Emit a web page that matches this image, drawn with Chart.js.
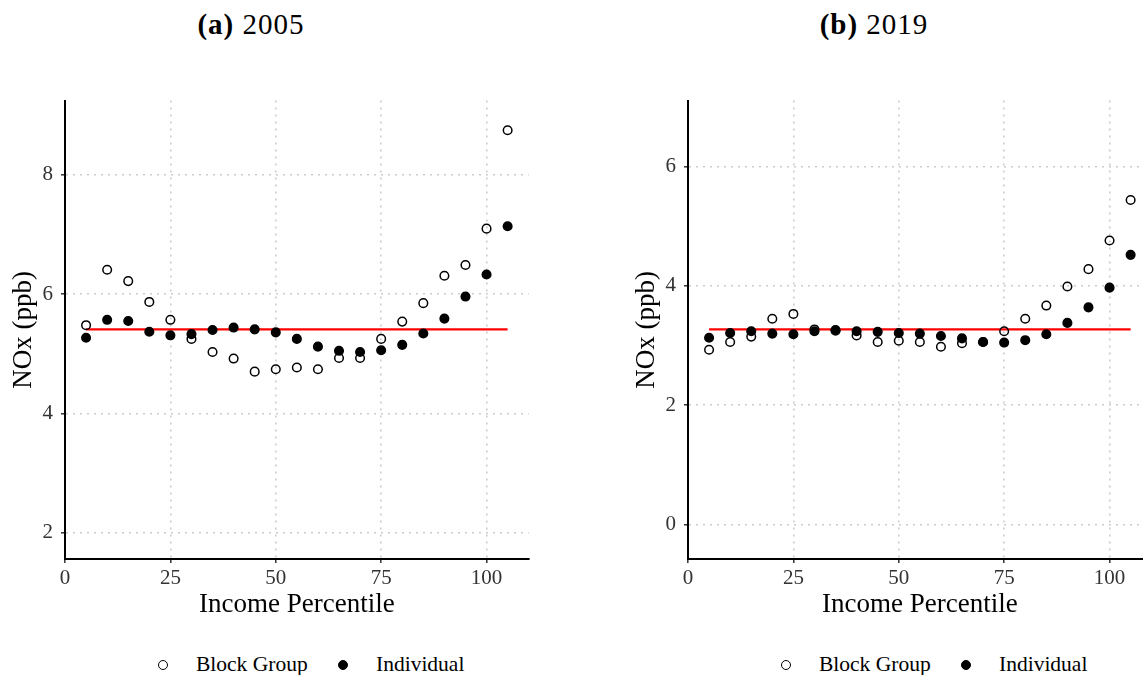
<!DOCTYPE html>
<html>
<head>
<meta charset="utf-8">
<title>NOx by income percentile</title>
<script src="https://cdn.jsdelivr.net/npm/chart.js@4.4.1/dist/chart.umd.min.js"></script>
<style>
  html, body {
    margin: 0;
    padding: 0;
    width: 1143px;
    height: 675px;
    overflow: hidden;
    background: #fff;
    font-family: 'Liberation Serif', 'Times New Roman', serif;
  }
  .panel { position: absolute; top: 80px; width: 540px; height: 560px; }
  .title {
    position: absolute; top: 5px; width: 300px;
    text-align: center; font-size: 29px; line-height: 38px;
    letter-spacing: 1px; color: #000;
  }
  .key {
    position: absolute; top: 659.5px; width: 10px; height: 10px;
    box-sizing: border-box; border: 1.5px solid #000; border-radius: 50%;
  }
  .key.filled { background: #000; }
  .keytext {
    position: absolute; top: 651.4px; font-size: 21.5px;
    line-height: 26px; color: #000; white-space: nowrap;
  }
</style>
</head>
<body>

<div class="title" style="left:101px"><b>(a)</b> 2005</div>
<div class="title" style="left:724px"><b>(b)</b> 2019</div>

<div class="panel" style="left:0px"><canvas id="chart2005"></canvas></div>
<div class="panel" style="left:623px"><canvas id="chart2019"></canvas></div>

<span class="key" style="left:158px"></span>
<span class="keytext" style="left:196px">Block Group</span>
<span class="key filled" style="left:338px"></span>
<span class="keytext" style="left:376px">Individual</span>

<span class="key" style="left:781px"></span>
<span class="keytext" style="left:819px">Block Group</span>
<span class="key filled" style="left:961px"></span>
<span class="keytext" style="left:999px">Individual</span>

<script>
// income percentile bins (x positions of the points)
const percentiles = [5, 10, 15, 20, 25, 30, 35, 40, 45, 50, 55, 60, 65, 70, 75, 80, 85, 90, 95, 100, 105];

// 2005 NOx (ppb)
const blockGroup2005 = [5.48, 6.41, 6.22, 5.87, 5.57, 5.25, 5.03, 4.92, 4.70, 4.74, 4.77, 4.74, 4.93, 4.93, 5.25, 5.54, 5.85, 6.31, 6.49, 7.10, 8.75];
const individual2005 = [5.27, 5.57, 5.55, 5.37, 5.31, 5.33, 5.40, 5.44, 5.41, 5.36, 5.25, 5.12, 5.05, 5.03, 5.06, 5.15, 5.34, 5.59, 5.96, 6.33, 7.14];
const mean2005 = 5.41;

// 2019 NOx (ppb)
const blockGroup2019 = [2.93, 3.06, 3.15, 3.45, 3.53, 3.27, 3.25, 3.17, 3.06, 3.08, 3.06, 2.98, 3.04, 3.06, 3.24, 3.45, 3.67, 3.99, 4.28, 4.76, 5.44];
const individual2019 = [3.13, 3.21, 3.24, 3.20, 3.19, 3.24, 3.26, 3.24, 3.23, 3.21, 3.20, 3.16, 3.12, 3.06, 3.05, 3.09, 3.19, 3.38, 3.64, 3.97, 4.52];
const mean2019 = 3.27;

const xTickStep = 25;
const yTickStep = 2;

Chart.defaults.font.family = "'Liberation Serif', 'Times New Roman', serif";

const points = (values) => percentiles.map((p, i) => ({ x: p, y: values[i] }));

function datasets(blockGroup, individual, mean) {
    return [
        {
            label: 'Individual',
            data: points(individual),
            pointStyle: 'circle',
            pointRadius: 4.3,
            borderWidth: 1.5,
            borderColor: '#000',
            backgroundColor: '#000',
            order: 1,
        },
        {
            label: 'Block Group',
            data: points(blockGroup),
            pointStyle: 'circle',
            pointRadius: 4.3,
            borderWidth: 1.5,
            borderColor: '#000',
            backgroundColor: 'rgba(0,0,0,0)',
            order: 2,
        },
        {
            // mean line across the bins
            label: 'Mean',
            data: [{ x: percentiles[0], y: mean }, { x: percentiles[percentiles.length - 1], y: mean }],
            showLine: true,
            pointRadius: 0,
            borderColor: '#ff0000',
            borderWidth: 2.2,
            order: 3,
        },
    ];
}

function panelOptions(yMin, yMax) {
    const grid = {
        color: '#cccccc',
        lineWidth: 1.6,
        tickColor: '#333',
        tickLength: 4,
        tickWidth: 1.5,
    };
    const border = { color: '#000', width: 2, dash: [2, 5] };
    return {
        responsive: true,
        maintainAspectRatio: false,
        animation: false,
        layout: { padding: { top: 15, right: 11.3, bottom: 0, left: 0 } },
        plugins: {
            legend: { display: false },
            tooltip: { enabled: false },
        },
        scales: {
            x: {
                type: 'linear',
                min: 0,
                max: 110,
                ticks: { stepSize: xTickStep, includeBounds: false, padding: 2.7, color: '#333', font: { size: 21 } },
                grid: grid,
                border: border,
                title: {
                    display: true,
                    text: 'Income Percentile',
                    color: '#000',
                    font: { size: 27 },
                    padding: { top: 0, bottom: 18.8 },
                },
                afterFit: (scale) => { scale.height = 81; },
            },
            y: {
                type: 'linear',
                min: yMin,
                max: yMax,
                ticks: { stepSize: yTickStep, includeBounds: false, padding: 8, color: '#333', font: { size: 21 } },
                grid: grid,
                border: border,
                title: {
                    display: true,
                    text: 'NOx (ppb)',
                    color: '#000',
                    font: { size: 27 },
                    padding: { top: 7.8, bottom: 0 },
                },
                afterFit: (scale) => { scale.width = 65; },
            },
        },
    };
}

const ctx2005 = document.getElementById('chart2005').getContext('2d');
const chart2005 = new Chart(ctx2005, {
    type: 'scatter',
    data: { datasets: datasets(blockGroup2005, individual2005, mean2005) },
    options: panelOptions(1.557, 9.248),
});

const ctx2019 = document.getElementById('chart2019').getContext('2d');
const chart2019 = new Chart(ctx2019, {
    type: 'scatter',
    data: { datasets: datasets(blockGroup2019, individual2019, mean2019) },
    options: panelOptions(-0.577, 7.105),
});
</script>
</body>
</html>
